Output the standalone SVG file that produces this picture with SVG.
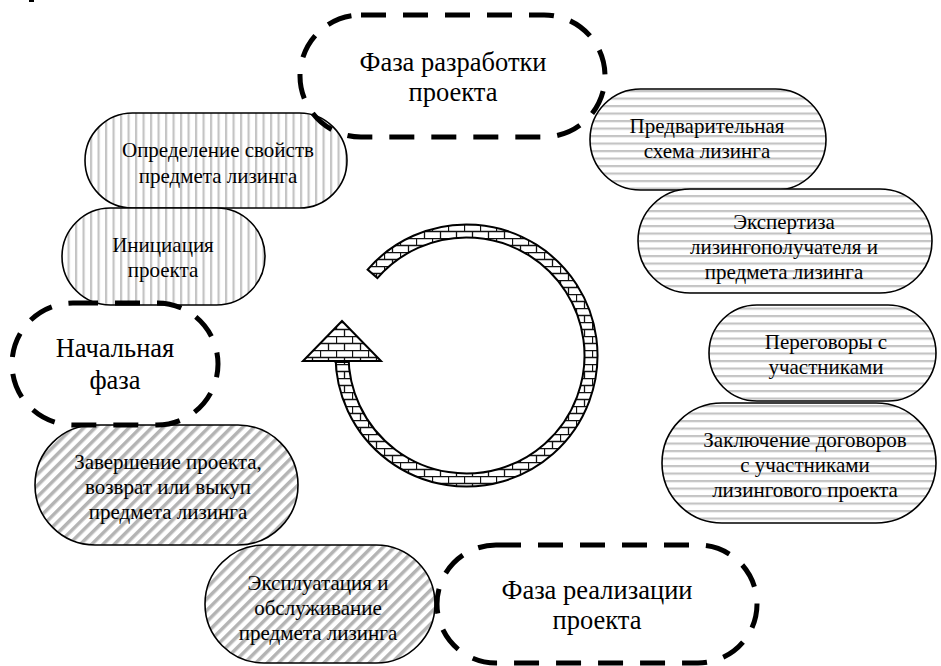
<svg xmlns="http://www.w3.org/2000/svg" width="941" height="666" viewBox="0 0 941 666">
<defs>
<pattern id="vstripe" patternUnits="userSpaceOnUse" width="7.5" height="10"><rect width="7.5" height="10" fill="#fff"/><rect x="0" y="0" width="2.2" height="10" fill="#c4c4c4"/></pattern>
<pattern id="hstripe" patternUnits="userSpaceOnUse" width="10" height="7.5"><rect width="10" height="7.5" fill="#fff"/><rect x="0" y="0" width="10" height="2.2" fill="#c4c4c4"/></pattern>
<pattern id="dstripe" patternUnits="userSpaceOnUse" width="8" height="10" patternTransform="rotate(45)"><rect width="8" height="10" fill="#fff"/><rect x="0" y="0" width="3.5" height="10" fill="#b4b4b4"/></pattern>
<pattern id="brick" patternUnits="userSpaceOnUse" width="16" height="14"><rect width="16" height="14" fill="#fff"/><path d="M0 0.5H16M0 7.5H16M0.5 0V7M8.5 7V14" stroke="#111" stroke-width="1.3" fill="none"/></pattern>
</defs>
<style>
.box{stroke:#000;stroke-width:1.6}
.v{fill:url(#vstripe)}
.h{fill:url(#hstripe)}
.d{fill:url(#dstripe)}
.phase{fill:none;stroke:#000;stroke-width:5;stroke-dasharray:25 17}
.ring{fill:url(#brick);stroke:#000;stroke-width:2;stroke-linejoin:miter}
</style>
<rect x="29" y="0" width="5" height="2" fill="#000"/>
<g id="cycle-arrow">
<path class="ring" d="M367.6 269.6 A131 131 0 1 1 335.5 355.5 L335.5 362 L348.5 362 L348.5 355.5 A118 118 0 1 0 377.4 278.1 Z"/>
<path class="ring" d="M342 321 L381 361 L303 361 Z"/>
</g>
<g font-family="Liberation Serif, Times New Roman, DejaVu Serif, serif" font-size="21" text-anchor="middle" fill="#000">
<g id="opr"><rect class="box v" x="85" y="113" width="262" height="95" rx="47.5"/><text x="218" y="157">Определение свойств</text><text x="218" y="183">предмета лизинга</text></g>
<g id="init"><rect class="box v" x="62" y="208" width="203" height="97" rx="48.5"/><text x="163" y="252">Инициация</text><text x="163" y="277">проекта</text></g>
<g id="pred"><rect class="box h" x="590" y="89" width="236" height="101" rx="50.5"/><text x="707" y="133">Предварительная</text><text x="707" y="158">схема лизинга</text></g>
<g id="exp"><rect class="box h" x="638" y="189" width="294" height="104" rx="52"/><text x="784" y="229">Экспертиза</text><text x="784" y="254">лизингополучателя и</text><text x="784" y="279">предмета лизинга</text></g>
<g id="per"><rect class="box h" x="709" y="305" width="227" height="96" rx="48"/><text x="826" y="349">Переговоры с</text><text x="826" y="374">участниками</text></g>
<g id="zakl"><rect class="box h" x="662" y="403" width="274" height="120" rx="60"/><text x="805" y="447">Заключение договоров</text><text x="805" y="472">с участниками</text><text x="805" y="497">лизингового проекта</text></g>
<g id="zav"><rect class="box d" x="35" y="425" width="263" height="120" rx="60"/><text x="168" y="469">Завершение проекта,</text><text x="168" y="494">возврат или выкуп</text><text x="168" y="519">предмета лизинга</text></g>
<g id="expl"><rect class="box d" x="205" y="545" width="230" height="118" rx="59"/><text x="318" y="590">Эксплуатация и</text><text x="318" y="615">обслуживание</text><text x="318" y="640">предмета лизинга</text></g>
<g id="phase-dev" font-size="26.5"><rect class="phase" x="300" y="15" width="305" height="122" rx="61"/><text x="453" y="71">Фаза разработки</text><text x="453" y="101">проекта</text></g>
<g id="phase-start" font-size="26.5"><rect class="phase" x="12" y="303" width="206" height="122" rx="61"/><text x="115" y="357">Начальная</text><text x="115" y="389">фаза</text></g>
<g id="phase-real" font-size="26.5"><rect class="phase" x="437" y="545" width="320" height="118" rx="59"/><text x="597" y="599">Фаза реализации</text><text x="597" y="629">проекта</text></g>
</g>
<g id="connectors"></g>
</svg>
